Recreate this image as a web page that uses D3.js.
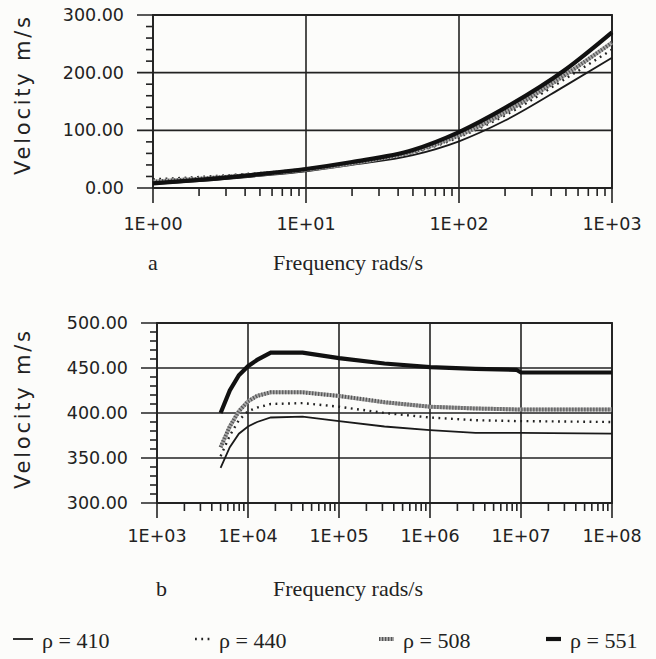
<!DOCTYPE html>
<html>
<head>
<meta charset="utf-8">
<script src="https://cdn.jsdelivr.net/npm/d3@7"></script>
<style>
  body { margin: 0; background: #fcfcfa; }
  svg { display: block; }
  .tick-label { font-family: "DejaVu Sans", sans-serif; font-size: 17.5px; fill: #222; }
  .ytitle { font-family: "DejaVu Sans", sans-serif; font-size: 21px; fill: #222; }
  .serif { font-family: "Liberation Serif", "DejaVu Serif", serif; font-size: 22px; fill: #222; }
</style>
</head>
<body>
<div id="chart"></div>
<script>
// panel a: low frequency range
const freqA = [1, 2, 5, 10, 20, 50, 100, 200, 500, 1000];
const velA410 = [7, 12, 21, 29, 40, 57, 81, 117, 178, 226];
const velA440 = [15, 19, 26, 32, 42, 61, 88, 126, 190, 240];
const velA508 = [11, 16, 24, 32, 43, 63, 91, 131, 197, 252];
const velA551 = [8, 14, 24, 33, 45, 66, 97, 139, 206, 270];

// panel b: high frequency range
const freqB = [5000, 6310, 7940, 10000, 12600, 17800, 39800, 1e5, 3.16e5, 1e6, 3.16e6, 8.9e6, 1e7, 1e8];
const velB410 = [339, 362, 377, 385, 390, 395, 396, 391, 385, 381, 378, 378, 378, 377];
const velB440 = [352, 375, 392, 402, 406, 410, 411, 407, 400, 395, 392, 391, 391, 390];
const velB508 = [362, 385, 402, 413, 419, 423, 423, 419, 412, 407, 405, 404, 404, 404];
const velB551 = [400, 425, 442, 452, 459, 467, 467, 461, 455, 451, 449, 448, 445, 445];

const ticksA = [1, 10, 100, 1000];
const ticksB = [1e3, 1e4, 1e5, 1e6, 1e7, 1e8];
const yTicksA = [0, 100, 200, 300];
const yTicksB = [300, 350, 400, 450, 500];

const legendLabels = ["ρ = 410", "ρ = 440", "ρ = 508", "ρ = 551"];

const W = 656, H = 659;
const svg = d3.select("#chart").append("svg")
    .attr("width", W).attr("height", H);

// line styles per series
function drawSeries(g, pts, kind, x, y, curve) {
    const line = d3.line().x(d => x(d[0])).y(d => y(d[1])).curve(curve);
    if (kind === 0) {
        g.append("path").attr("d", line(pts)).attr("fill", "none")
            .attr("stroke", "#1a1a1a").attr("stroke-width", 1.8);
    } else if (kind === 1) {
        g.append("path").attr("d", line(pts)).attr("fill", "none")
            .attr("stroke", "#222").attr("stroke-width", 2.4)
            .attr("stroke-dasharray", "1.8,4.5");
    } else if (kind === 2) {
        g.append("path").attr("d", line(pts)).attr("fill", "none")
            .attr("stroke", "#a8a8a8").attr("stroke-width", 4);
        g.append("path").attr("d", line(pts)).attr("fill", "none")
            .attr("stroke", "#555").attr("stroke-width", 4)
            .attr("stroke-dasharray", "1.2,1.8");
    } else {
        g.append("path").attr("d", line(pts)).attr("fill", "none")
            .attr("stroke", "#111").attr("stroke-width", 4.2);
    }
}

function panel(opt) {
    const x = d3.scaleLog().domain(opt.xDomain).range([opt.left, opt.right]);
    const y = d3.scaleLinear().domain(opt.yDomain).range([opt.bottom, opt.top]);
    const g = svg.append("g");

    // horizontal grid
    g.selectAll(".hg").data(opt.yTicks).enter().append("line")
        .attr("x1", opt.left - 16).attr("x2", opt.right)
        .attr("y1", d => y(d)).attr("y2", d => y(d))
        .attr("stroke", "#222").attr("stroke-width", 1.6);
    // vertical grid
    g.selectAll(".vg").data(opt.xTicks).enter().append("line")
        .attr("x1", d => x(d)).attr("x2", d => x(d))
        .attr("y1", opt.top).attr("y2", opt.bottom + 15)
        .attr("stroke", "#222").attr("stroke-width", 1.6);

    // y minor ticks
    const step = (opt.yTicks[1] - opt.yTicks[0]) / 5;
    const yMinor = d3.range(opt.yDomain[0], opt.yDomain[1] + 0.001, step)
        .filter(v => !opt.yTicks.includes(Math.round(v)));
    g.selectAll(".ym").data(yMinor).enter().append("line")
        .attr("x1", opt.left - 7).attr("x2", opt.left)
        .attr("y1", d => y(d)).attr("y2", d => y(d))
        .attr("stroke", "#222").attr("stroke-width", 1.6);

    // x minor ticks (log 2..9)
    const xMinor = [];
    for (let i = 0; i < opt.xTicks.length - 1; i++) {
        for (let m = 2; m <= 9; m++) xMinor.push(opt.xTicks[i] * m);
    }
    g.selectAll(".xm").data(xMinor).enter().append("line")
        .attr("x1", d => x(d)).attr("x2", d => x(d))
        .attr("y1", opt.bottom).attr("y2", opt.bottom + 8)
        .attr("stroke", "#222").attr("stroke-width", 1.6);

    // frame
    g.append("path")
        .attr("d", `M${opt.left},${opt.top}H${opt.right}V${opt.bottom}H${opt.left}Z`)
        .attr("fill", "none").attr("stroke", "#222").attr("stroke-width", 1.8);

    // tick labels
    g.selectAll(".yl").data(opt.yTicks).enter().append("text")
        .attr("class", "tick-label")
        .attr("x", opt.left - 29).attr("y", d => y(d) + 6)
        .attr("text-anchor", "end")
        .text(d => d.toFixed(2));
    g.selectAll(".xl").data(opt.xTicks).enter().append("text")
        .attr("class", "tick-label")
        .attr("x", d => x(d)).attr("y", opt.labelY)
        .attr("text-anchor", "middle")
        .text(d => "1E+" + String(Math.round(Math.log10(d))).padStart(2, "0"));

    // titles
    g.append("text").attr("class", "ytitle")
        .attr("transform", `translate(30,${opt.yTitleY}) rotate(-90)`)
        .attr("text-anchor", "middle")
        .attr("textLength", 158).attr("lengthAdjust", "spacing")
        .text("Velocity  m/s");
    g.append("text").attr("class", "serif")
        .attr("x", opt.letterX).attr("y", opt.freqY).text(opt.letter);
    g.append("text").attr("class", "serif")
        .attr("x", 273).attr("y", opt.freqY)
        .attr("textLength", 150).attr("lengthAdjust", "spacing")
        .text("Frequency  rads/s");

    opt.series.forEach((vals, k) => {
        const pts = opt.freq.map((f, i) => [f, vals[i]]);
        drawSeries(g, pts, k, x, y, opt.curve);
    });
}

panel({
    left: 153, right: 612, top: 15, bottom: 188,
    xDomain: [1, 1000], yDomain: [0, 300],
    xTicks: ticksA, yTicks: yTicksA,
    labelY: 230, yTitleY: 96, freqY: 270,
    letter: "a", letterX: 148,
    freq: freqA, series: [velA410, velA440, velA508, velA551],
    curve: d3.curveMonotoneX
});

panel({
    left: 157, right: 612, top: 323, bottom: 503,
    xDomain: [1e3, 1e8], yDomain: [300, 500],
    xTicks: ticksB, yTicks: yTicksB,
    labelY: 542, yTitleY: 410, freqY: 596,
    letter: "b", letterX: 156,
    freq: freqB, series: [velB410, velB440, velB508, velB551],
    curve: d3.curveLinear
});

// legend
const legX = [13, 195, 379, 546];
const legY = 639;
legendLabels.forEach((lab, k) => {
    const g = svg.append("g");
    const lx = d3.scaleLinear().domain([0, 1]).range([legX[k], legX[k] + (k === 0 ? 20 : 15)]);
    const ly = d3.scaleLinear().domain([0, 1]).range([legY, legY]);
    drawSeries(g, [[0, 0], [1, 0]], k, lx, ly, d3.curveLinear);
    g.append("text").attr("class", "serif")
        .attr("x", legX[k] + (k === 0 ? 29 : 24)).attr("y", legY + 9)
        .text(lab);
});
</script>
</body>
</html>
